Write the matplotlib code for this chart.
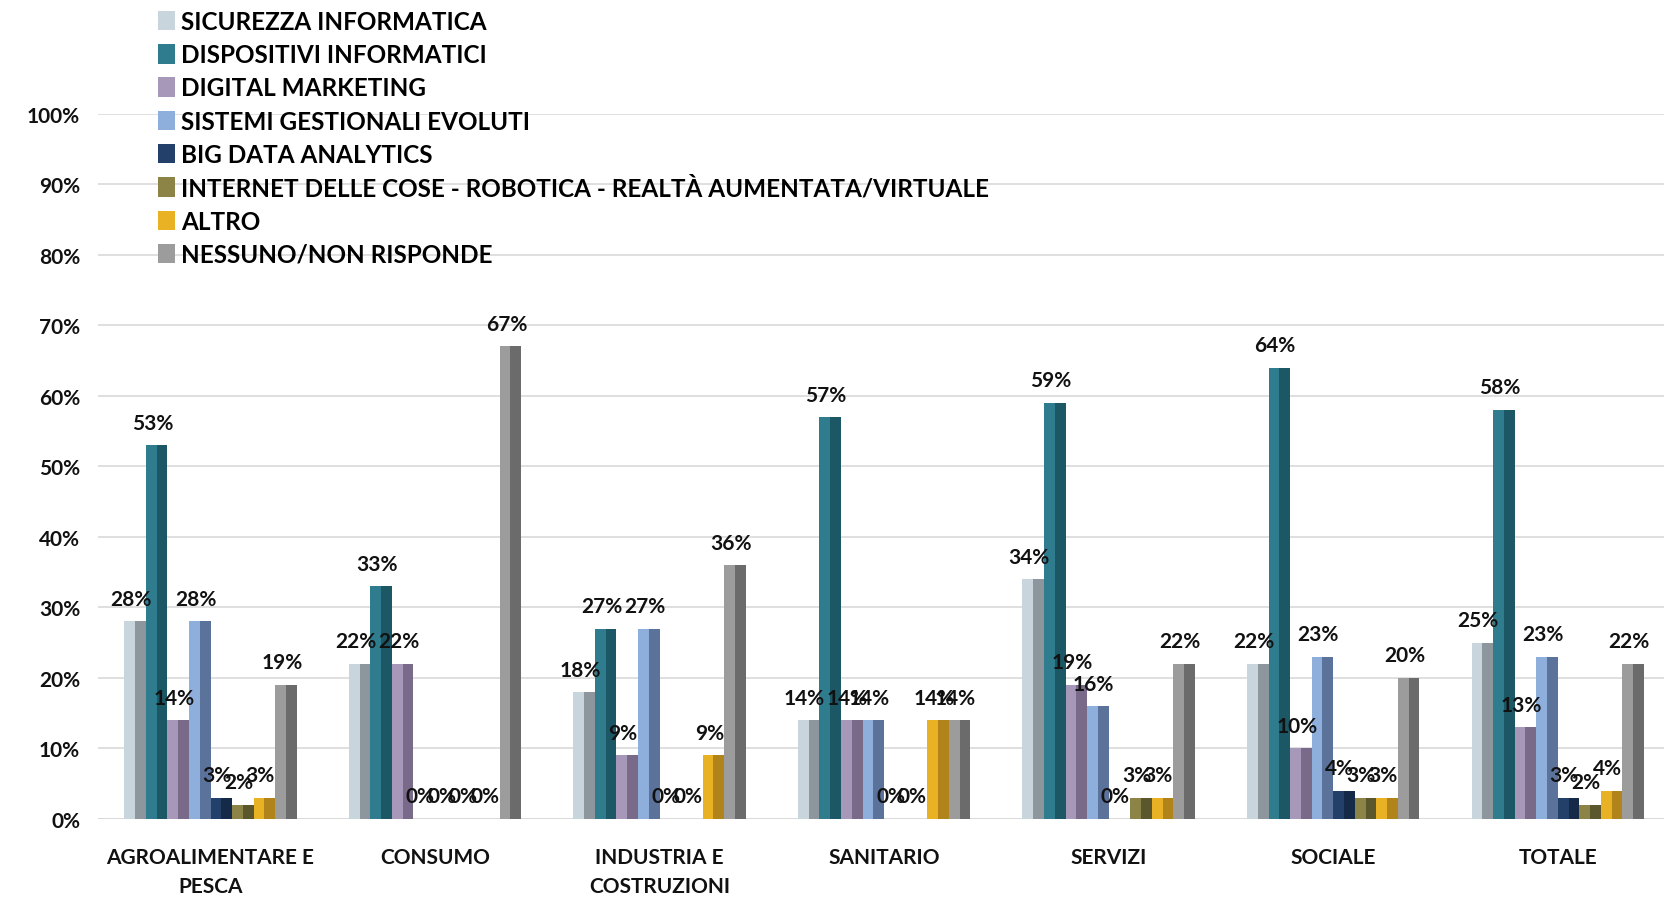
import matplotlib
matplotlib.use("Agg")
import matplotlib.pyplot as plt
import numpy as np

plt.rcParams['font.family'] = ['Lato', 'DejaVu Sans']
plt.rcParams['font.weight'] = 'bold'

# categories and series values (fractions)
categories = ["AGROALIMENTARE E\nPESCA", "CONSUMO", "INDUSTRIA E\nCOSTRUZIONI",
              "SANITARIO", "SERVIZI", "SOCIALE", "TOTALE"]
series_names = ["SICUREZZA INFORMATICA", "DISPOSITIVI INFORMATICI", "DIGITAL MARKETING",
                "SISTEMI GESTIONALI EVOLUTI", "BIG DATA ANALYTICS",
                "INTERNET DELLE COSE - ROBOTICA - REALTÀ AUMENTATA/VIRTUALE",
                "ALTRO", "NESSUNO/NON RISPONDE"]
sicurezza = [0.28, 0.22, 0.18, 0.14, 0.34, 0.22, 0.25]
dispositivi = [0.53, 0.33, 0.27, 0.57, 0.59, 0.64, 0.58]
marketing = [0.14, 0.22, 0.09, 0.14, 0.19, 0.10, 0.13]
gestionali = [0.28, 0.00, 0.27, 0.14, 0.16, 0.23, 0.23]
big_data = [0.03, 0.00, 0.00, 0.00, 0.00, 0.04, 0.03]
iot = [0.02, 0.00, 0.00, 0.00, 0.03, 0.03, 0.02]
altro = [0.03, 0.00, 0.09, 0.14, 0.03, 0.03, 0.04]
nessuno = [0.19, 0.67, 0.36, 0.14, 0.22, 0.20, 0.22]
yticks = [0, 0.1, 0.2, 0.3, 0.4, 0.5, 0.6, 0.7, 0.8, 0.9, 1.0]

all_series = [sicurezza, dispositivi, marketing, gestionali, big_data, iot, altro, nessuno]
# (light face, dark side) for the bevelled look
colors = [("#c9d5dd", "#8c969c"), ("#2f7c8e", "#1c5766"), ("#a797b9", "#786a88"),
          ("#8eaedb", "#5b729a"), ("#23406a", "#142a48"), ("#8c8446", "#5c562c"),
          ("#e9b224", "#b0841a"), ("#9c9c9c", "#6b6b6b")]

fig = plt.figure(figsize=(16.65, 9.04), dpi=100)
ax = fig.add_axes([0.059, 0.093, 0.944, 0.780])

x = np.arange(len(categories))
w = 0.096
n = len(all_series)
for i, vals in enumerate(all_series):
    pos = x + (i - (n - 1) / 2) * w
    light, dark = colors[i]
    ax.bar(pos - w / 4, vals, w / 2, color=light, zorder=3, label=series_names[i])
    ax.bar(pos + w / 4, vals, w / 2, color=dark, zorder=3)
    for px, v in zip(pos, vals):
        ax.annotate(f"{round(v * 100)}%", (px, v), xytext=(-3, 9), textcoords="offset points",
                    ha="center", va="bottom", fontsize=15, fontweight="bold", color="#111111",
                    zorder=5)

ax.set_xlim(-0.5, len(categories) - 0.5)
ax.set_ylim(0, 1.0)
ax.set_yticks(yticks)
ax.set_yticklabels([f"{int(round(t * 100))}%" for t in yticks], fontsize=15, fontweight="bold")
ax.set_xticks(x)
ax.set_xticklabels(categories, fontsize=15, fontweight="bold", linespacing=1.6)
ax.tick_params(axis="both", length=0, colors="#111111")
ax.tick_params(axis="y", pad=13)
ax.tick_params(axis="x", pad=20)
ax.grid(axis="y", color="#d9d9d9", linewidth=1.2, zorder=0)
ax.set_axisbelow(True)
for s in ax.spines.values():
    s.set_visible(False)
ax.axhline(0, color="#d9d9d9", linewidth=1.2, zorder=1)

handles, labels = ax.get_legend_handles_labels()
leg = fig.legend(handles, labels, loc="upper left", bbox_to_anchor=(0.082, 1.012), frameon=False,
                 handlelength=0.7, handleheight=0.85, handletextpad=0.25,
                 labelspacing=0.42, prop={"weight": "bold", "size": 17.5})

fig.savefig("out.png", dpi=100, facecolor="white")
